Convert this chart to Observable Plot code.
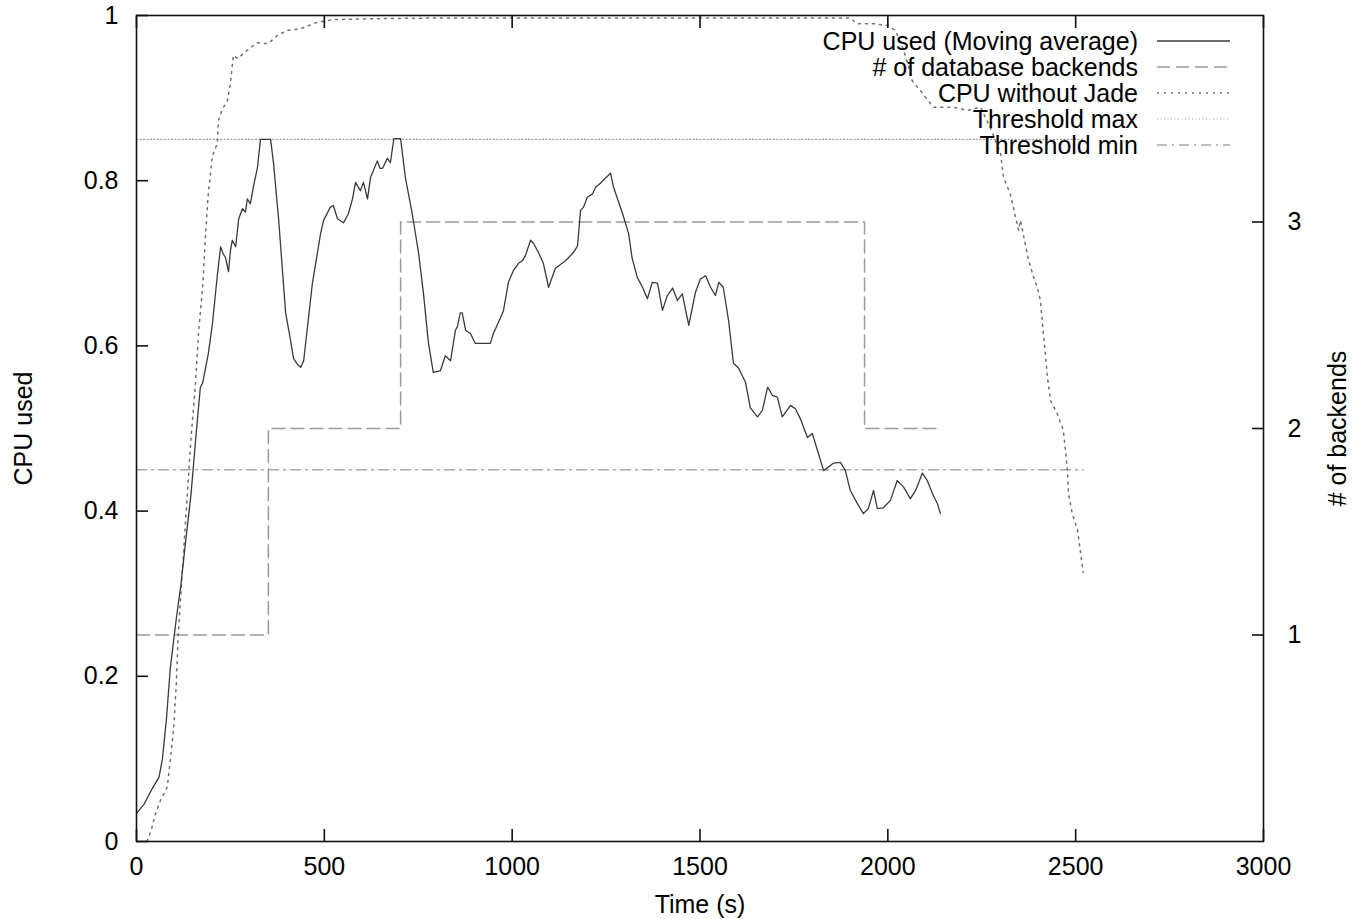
<!DOCTYPE html>
<html><head><meta charset="utf-8">
<script src="https://cdn.jsdelivr.net/npm/d3@7"></script>
<script src="https://cdn.jsdelivr.net/npm/@observablehq/plot@0.6"></script>
<style>
body{margin:0;background:#fff;}
#wrap{position:relative;width:1355px;height:919px;font-family:"Liberation Sans",Arial,Helvetica,sans-serif;}
#legend{position:absolute;left:0;top:0;pointer-events:none;}
</style></head><body><div id="wrap"></div>
<script>
// ---- data ----
const cpuTime = [0,20,37,51,60,69,80,90,106,118,130,145,160,170,176,191,202,215,224,230,237,245,250,255,264,272,282,290,295,303,311,322,330,357,365,378,397,410,418,428,437,445,468,490,498,516,524,535,551,564,575,583,596,604,615,623,641,648,655,668,676,685,703,716,734,751,764,777,790,809,822,836,849,854,862,867,876,889,902,942,950,969,977,990,1003,1017,1027,1035,1049,1057,1070,1083,1097,1115,1142,1163,1174,1182,1190,1200,1214,1222,1235,1248,1262,1270,1279,1294,1302,1310,1319,1333,1347,1360,1373,1387,1400,1413,1427,1440,1453,1470,1488,1501,1515,1528,1541,1550,1562,1576,1589,1603,1621,1634,1653,1666,1680,1693,1706,1719,1741,1754,1767,1786,1799,1813,1829,1855,1874,1887,1900,1919,1935,1948,1962,1972,1988,2007,2025,2042,2060,2074,2092,2105,2119,2132,2140];
const cpuUsed = [0.034,0.045,0.06,0.071,0.078,0.10,0.15,0.21,0.27,0.31,0.36,0.42,0.50,0.55,0.555,0.59,0.626,0.685,0.72,0.712,0.707,0.69,0.715,0.728,0.72,0.754,0.766,0.762,0.778,0.772,0.792,0.816,0.85,0.85,0.82,0.755,0.64,0.607,0.585,0.578,0.574,0.582,0.675,0.736,0.752,0.768,0.77,0.754,0.749,0.76,0.778,0.798,0.788,0.798,0.778,0.804,0.824,0.815,0.815,0.827,0.822,0.851,0.851,0.803,0.76,0.712,0.663,0.604,0.568,0.57,0.588,0.582,0.619,0.623,0.64,0.64,0.619,0.615,0.603,0.603,0.615,0.634,0.643,0.677,0.691,0.70,0.703,0.709,0.728,0.724,0.713,0.70,0.671,0.694,0.703,0.713,0.721,0.764,0.768,0.78,0.784,0.792,0.797,0.803,0.809,0.792,0.78,0.76,0.748,0.736,0.707,0.683,0.671,0.657,0.677,0.676,0.643,0.661,0.67,0.655,0.663,0.625,0.665,0.681,0.685,0.671,0.661,0.677,0.671,0.631,0.579,0.573,0.556,0.525,0.514,0.522,0.55,0.54,0.538,0.514,0.528,0.524,0.512,0.489,0.494,0.473,0.449,0.458,0.459,0.449,0.425,0.409,0.397,0.403,0.425,0.403,0.404,0.413,0.437,0.429,0.415,0.425,0.446,0.437,0.421,0.409,0.397];

const jadeTime = [28,40,51,64,82,90,99,106,111,144,157,165,176,184,191,202,215,218,229,242,250,258,269,285,303,322,338,351,375,402,437,482,524,615,800,1200,1600,1900,1919,1962,1999,2020,2042,2055,2065,2087,2121,2175,2212,2247,2273,2300,2308,2326,2348,2353,2375,2388,2398,2406,2415,2425,2433,2451,2467,2473,2478,2481,2491,2505,2520];
const cpuNoJade = [0.0,0.015,0.034,0.05,0.066,0.098,0.138,0.191,0.25,0.482,0.554,0.615,0.671,0.736,0.784,0.83,0.845,0.873,0.887,0.897,0.918,0.952,0.948,0.954,0.961,0.967,0.966,0.966,0.976,0.982,0.984,0.992,0.995,0.996,0.997,0.997,0.997,0.997,0.99,0.99,0.988,0.982,0.958,0.939,0.921,0.909,0.889,0.889,0.885,0.889,0.864,0.833,0.804,0.784,0.74,0.752,0.703,0.683,0.671,0.655,0.61,0.562,0.534,0.518,0.498,0.473,0.449,0.421,0.397,0.377,0.326];

const backendTime = [0,351,703,1938,2140];
const backendCount = [1,2,3,2,2];

const thresholdMax = 0.85;
const thresholdMin = 0.45;
const thresholdSpan = [0,2520];

const xTicks = [0,500,1000,1500,2000,2500,3000];
const yTicks = [0,0.2,0.4,0.6,0.8,1];
const y2Ticks = [1,2,3];
const y2Max = 4;

const legendLabels = ["CPU used (Moving average)","# of database backends","CPU without Jade","Threshold max","Threshold min"];

// ---- build tables ----
const cpu = cpuTime.map((t,i)=>({t, v: cpuUsed[i]}));
const jade = jadeTime.map((t,i)=>({t, v: cpuNoJade[i]}));
const backends = backendTime.map((t,i)=>({t, v: backendCount[i] / y2Max}));
const thrMax = thresholdSpan.map(t=>({t, v: thresholdMax}));
const thrMin = thresholdSpan.map(t=>({t, v: thresholdMin}));

const styles = [
  {stroke:"#3a3a3a", strokeWidth:1.3, dash:null},
  {stroke:"#9a9a9a", strokeWidth:1.5, dash:"13,6"},
  {stroke:"#707070", strokeWidth:1.5, dash:"2,5"},
  {stroke:"#9a9a9a", strokeWidth:1.2, dash:"1,2.5"},
  {stroke:"#a8a8a8", strokeWidth:1.5, dash:"10,5,2,5"}
];

const font = '"Liberation Sans", Arial, Helvetica, sans-serif';

const chart = Plot.plot({
  width:1355, height:919,
  marginLeft:136, marginRight:92, marginTop:15, marginBottom:78,
  style:{fontFamily:font, fontSize:"25px", color:"#000", background:"#fff"},
  x:{domain:[0,3000]},
  y:{domain:[0,1]},
  marks:[
    Plot.line(thrMax, {x:"t", y:"v", stroke:styles[3].stroke, strokeWidth:styles[3].strokeWidth, strokeDasharray:styles[3].dash}),
    Plot.line(thrMin, {x:"t", y:"v", stroke:styles[4].stroke, strokeWidth:styles[4].strokeWidth, strokeDasharray:styles[4].dash}),
    Plot.line(backends, {x:"t", y:"v", curve:"step-after", stroke:styles[1].stroke, strokeWidth:styles[1].strokeWidth, strokeDasharray:styles[1].dash}),
    Plot.line(jade, {x:"t", y:"v", stroke:styles[2].stroke, strokeWidth:styles[2].strokeWidth, strokeDasharray:styles[2].dash}),
    Plot.line(cpu, {x:"t", y:"v", stroke:styles[0].stroke, strokeWidth:styles[0].strokeWidth}),
    Plot.frame({stroke:"#111", strokeWidth:1.6}),
    Plot.axisX({anchor:"bottom", ticks:xTicks, tickSize:-12, tickPadding:28, tickFormat:d=>String(d),
      label:"Time (s)", labelAnchor:"center", labelArrow:"none", labelOffset:71, stroke:"#111", strokeWidth:1.6}),
    Plot.axisX({anchor:"top", ticks:xTicks, tickSize:-12, tickFormat:()=>"", label:null, stroke:"#111", strokeWidth:1.6}),
    Plot.axisY({anchor:"left", ticks:yTicks, tickSize:-12, tickPadding:30, tickFormat:d=>String(d),
      label:"CPU used", labelAnchor:"center", labelArrow:"none", labelOffset:122, stroke:"#111", strokeWidth:1.6}),
    Plot.axisY({anchor:"right", ticks:y2Ticks.map(v=>v/y2Max), tickSize:-12, tickPadding:36, tickFormat:d=>String(Math.round(d*y2Max)),
      label:"# of backends", labelAnchor:"center", labelArrow:"none", labelOffset:82, stroke:"#111", strokeWidth:1.6})
  ]
});

const wrap = document.getElementById("wrap");
wrap.appendChild(chart);

// ---- legend (inside the plot area, top right) ----
const leg = d3.select(wrap).append("svg").attr("id","legend")
  .attr("width",1355).attr("height",919);
const rowY = i => 41 + i*26;
legendLabels.forEach((lab,i)=>{
  leg.append("text").attr("x",1138).attr("y",rowY(i)).attr("text-anchor","end")
    .attr("dominant-baseline","central").attr("font-family",font).attr("font-size",25)
    .attr("fill","#000").text(lab);
  const s = styles[i];
  leg.append("line").attr("x1",1157).attr("x2",1230).attr("y1",rowY(i)).attr("y2",rowY(i))
    .attr("stroke",s.stroke).attr("stroke-width",s.strokeWidth)
    .attr("stroke-dasharray",s.dash);
});
</script></body></html>
